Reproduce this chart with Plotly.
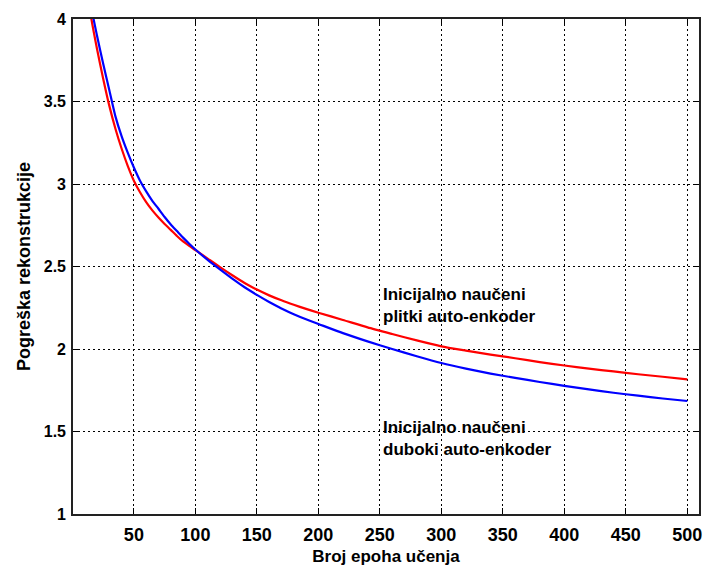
import plotly.graph_objects as go

epochs = [10, 15, 20, 25, 30, 35, 40, 45, 50, 55, 60, 65, 70, 75, 80, 85, 90, 95, 100,
          110, 120, 130, 140, 150, 160, 170, 180, 190, 200, 220, 240, 260, 280, 300,
          320, 340, 360, 380, 400, 420, 440, 460, 480, 500]

# Red: initially trained shallow auto-encoder
red_err = [4.30, 4.02, 3.82, 3.64, 3.475, 3.335, 3.215, 3.11, 3.02, 2.95, 2.89, 2.84, 2.797,
           2.758, 2.722, 2.685, 2.652, 2.625, 2.60, 2.548, 2.496, 2.447, 2.40, 2.36, 2.325,
           2.295, 2.268, 2.243, 2.22, 2.176, 2.131, 2.091, 2.052, 2.016, 1.99, 1.966,
           1.944, 1.921, 1.90, 1.881, 1.864, 1.847, 1.832, 1.816]

# Blue: initially trained deep auto-encoder
blue_err = [4.50, 4.09, 3.90, 3.73, 3.57, 3.41, 3.29, 3.19, 3.10, 3.02, 2.955, 2.898, 2.85,
            2.80, 2.755, 2.715, 2.675, 2.638, 2.603, 2.54, 2.482, 2.426, 2.374, 2.328, 2.285,
            2.246, 2.211, 2.18, 2.152, 2.096, 2.046, 2.0, 1.956, 1.915, 1.881, 1.851,
            1.825, 1.80, 1.777, 1.755, 1.735, 1.717, 1.70, 1.685]

x_ticks = [50, 100, 150, 200, 250, 300, 350, 400, 450, 500]
y_ticks = [1, 1.5, 2, 2.5, 3, 3.5, 4]
y_tick_text = ["1", "1.5", "2", "2.5", "3", "3.5", "4"]

label_shallow = "Inicijalno naučeni<br>plitki auto-enkoder"
label_deep = "Inicijalno naučeni<br>duboki auto-enkoder"
x_title = "Broj epoha učenja"
y_title = "Pogreška rekonstrukcije"

FONT = "Liberation Sans, Arial, sans-serif"

fig = go.Figure()
fig.add_trace(go.Scatter(x=epochs, y=red_err, mode="lines",
                         line=dict(color="#ff0000", width=2.2, shape="spline", smoothing=0.6),
                         showlegend=False))
fig.add_trace(go.Scatter(x=epochs, y=blue_err, mode="lines",
                         line=dict(color="#0000ff", width=2.2, shape="spline", smoothing=0.6),
                         showlegend=False))

fig.add_annotation(x=251, y=2.262, text="<b>" + label_shallow + "</b>", showarrow=False,
                   xanchor="left", yanchor="middle", align="left",
                   font=dict(family=FONT, size=17, color="black"))
fig.add_annotation(x=251, y=1.46, text="<b>" + label_deep + "</b>", showarrow=False,
                   xanchor="left", yanchor="middle", align="left",
                   font=dict(family=FONT, size=17, color="black"))

axis_common = dict(showline=True, linecolor="#222222", linewidth=1.6, mirror="ticks",
                   ticks="inside", ticklen=6, tickcolor="black", tickwidth=1.2,
                   showgrid=True, gridcolor="black", gridwidth=1.2, griddash="2px,3px",
                   zeroline=False)

fig.update_xaxes(range=[0.5, 509.5], tickvals=x_ticks, ticklabelstandoff=4,
                 tickfont=dict(family=FONT, size=18, color="black", weight="bold"),
                 title=dict(text="<b>" + x_title + "</b>", standoff=6,
                            font=dict(family=FONT, size=17, color="black")),
                 **axis_common)
fig.update_yaxes(range=[1, 4], tickvals=y_ticks, ticktext=y_tick_text, ticklabelstandoff=2,
                 tickfont=dict(family=FONT, size=16, color="black", weight="bold"),
                 title=dict(text="<b>" + y_title + "</b>", standoff=8,
                            font=dict(family=FONT, size=18, color="black")),
                 **axis_common)

fig.update_layout(width=708, height=569,
                  margin=dict(l=73, r=6, t=19, b=55),
                  paper_bgcolor="white", plot_bgcolor="white")

fig.write_html("out.html")
